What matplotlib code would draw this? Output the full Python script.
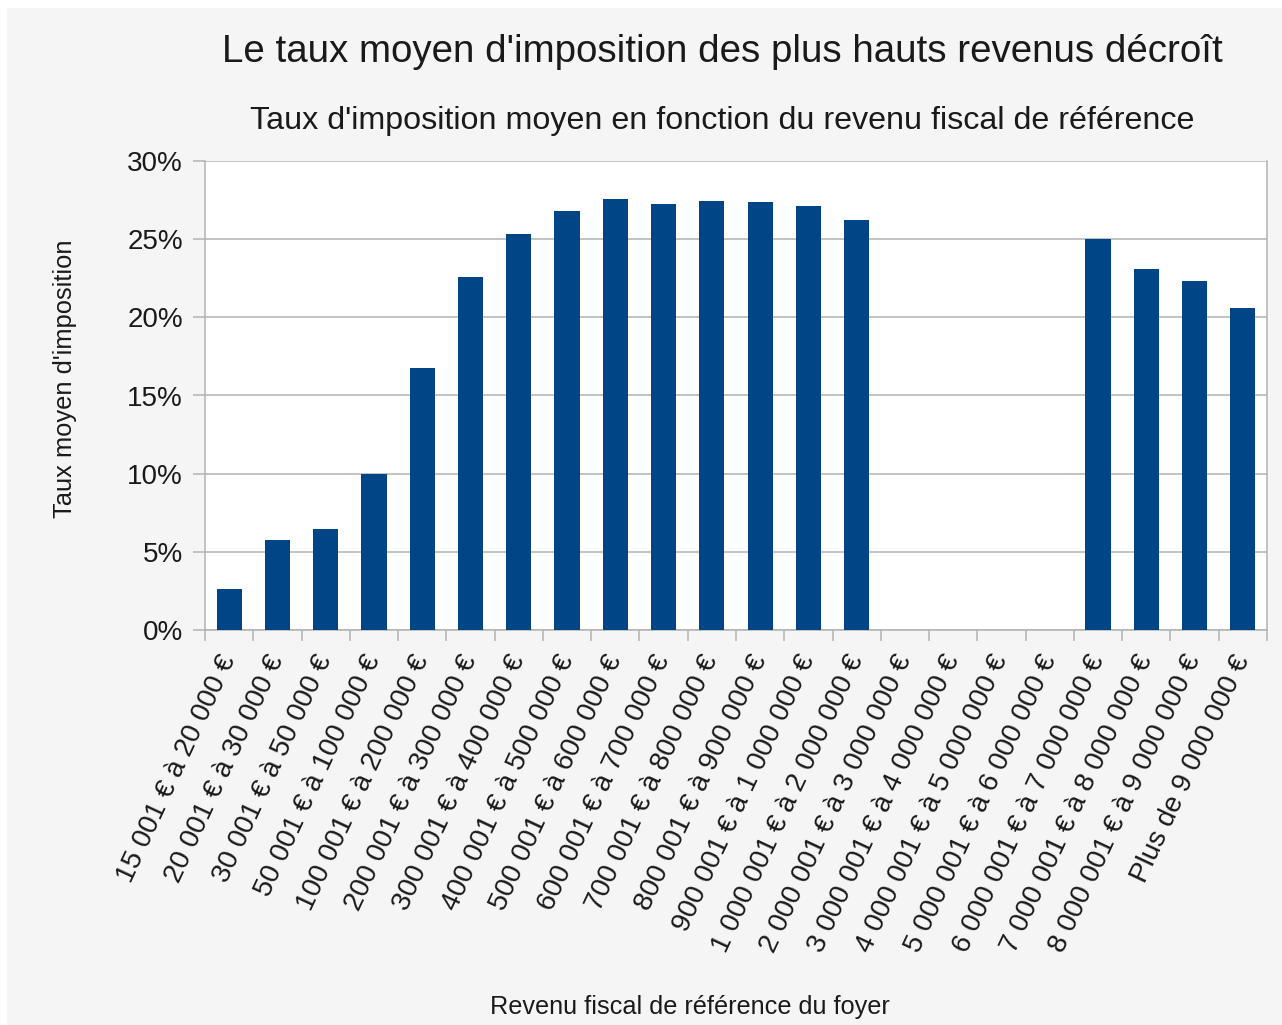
import numpy as np
import matplotlib
matplotlib.use("Agg")
import matplotlib.pyplot as plt
from matplotlib.patches import Rectangle
from matplotlib.ticker import FuncFormatter, FixedLocator

plt.rcParams['font.family'] = ['Liberation Sans', 'DejaVu Sans']

categories = [
    "15 001 € à 20 000 €", "20 001 € à 30 000 €", "30 001 € à 50 000 €",
    "50 001 € à 100 000 €", "100 001 € à 200 000 €", "200 001 € à 300 000 €",
    "300 001 € à 400 000 €", "400 001 € à 500 000 €", "500 001 € à 600 000 €",
    "600 001 € à 700 000 €", "700 001 € à 800 000 €", "800 001 € à 900 000 €",
    "900 001 € à 1 000 000 €", "1 000 001 € à 2 000 000 €",
    "2 000 001 € à 3 000 000 €", "3 000 001 € à 4 000 000 €",
    "4 000 001 € à 5 000 000 €", "5 000 001 € à 6 000 000 €",
    "6 000 001 € à 7 000 000 €", "7 000 001 € à 8 000 000 €",
    "8 000 001 € à 9 000 000 €", "Plus de 9 000 000 €",
]
taux = [2.6, 5.75, 6.45, 10.0, 16.75, 22.6, 25.35, 26.8, 27.6, 27.25, 27.45,
        27.4, 27.15, 26.25, np.nan, np.nan, np.nan, np.nan, 25.0, 23.1, 22.3, 20.6]
yticks = [0, 5, 10, 15, 20, 25, 30]

title = "Le taux moyen d'imposition des plus hauts revenus décroît"
subtitle = "Taux d'imposition moyen en fonction du revenu fiscal de référence"
ylabel = "Taux moyen d'imposition"
xlabel = "Revenu fiscal de référence du foyer"

W, H = 1282, 1025
fig = plt.figure(figsize=(W / 100, H / 100), dpi=100, facecolor='white')
fig.patches.append(Rectangle((7 / W, 0), 1 - 7 / W, 1 - 8 / H, transform=fig.transFigure,
                             facecolor='#f5f5f5', edgecolor='none', zorder=-10))

ax = fig.add_axes([205 / W, 1 - 630 / H, (1267 - 205) / W, (630 - 161) / H])
ax.set_facecolor('white')

x = np.arange(len(categories))
vals = np.array(taux, dtype=float)
mask = ~np.isnan(vals)
ax.bar(x[mask], vals[mask], width=0.52, color='#004586', edgecolor='none', zorder=3)

ax.set_xlim(-0.5, len(categories) - 0.5)
ax.set_ylim(0, 30)
ax.set_yticks(yticks)
ax.yaxis.set_major_formatter(FuncFormatter(lambda v, p: f"{v:.0f}%"))
ax.grid(axis='y', color='#b3b3b3', linewidth=1.1, zorder=1)
ax.set_axisbelow(True)

gc = '#b3b3b3'
for s in ['left', 'right', 'bottom']:
    ax.spines[s].set_color(gc)
    ax.spines[s].set_linewidth(1.1)
ax.spines['top'].set_visible(False)

ax.set_xticks(x)
ax.set_xticklabels(categories, rotation=65, ha='right', va='center',
                   rotation_mode='anchor', fontsize=20, color='#1a1a1a')
ax.tick_params(axis='x', which='major', length=0, pad=19)
ax.xaxis.set_minor_locator(FixedLocator(np.arange(-0.5, len(categories), 1.0)))
ax.tick_params(axis='x', which='minor', length=8, width=1.1, color=gc)
ax.tick_params(axis='y', which='major', length=9, width=1.1, color=gc,
               labelsize=20, labelcolor='#1a1a1a', pad=7)

fig.text(722 / W, 1 - 62 / H, title, ha='center', va='baseline', fontsize=27.7, color='#1a1a1a')
fig.text(722 / W, 1 - 129 / H, subtitle, ha='center', va='baseline', fontsize=23.2, color='#1a1a1a')
fig.text(65 / W, 1 - 378.5 / H, ylabel, ha='center', va='center', rotation=90,
         fontsize=18.4, color='#1a1a1a')
fig.text(689.5 / W, 1 - 1007 / H, xlabel, ha='center', va='center', fontsize=18.2, color='#1a1a1a')

fig.savefig('out.png', dpi=100, facecolor=fig.get_facecolor())
